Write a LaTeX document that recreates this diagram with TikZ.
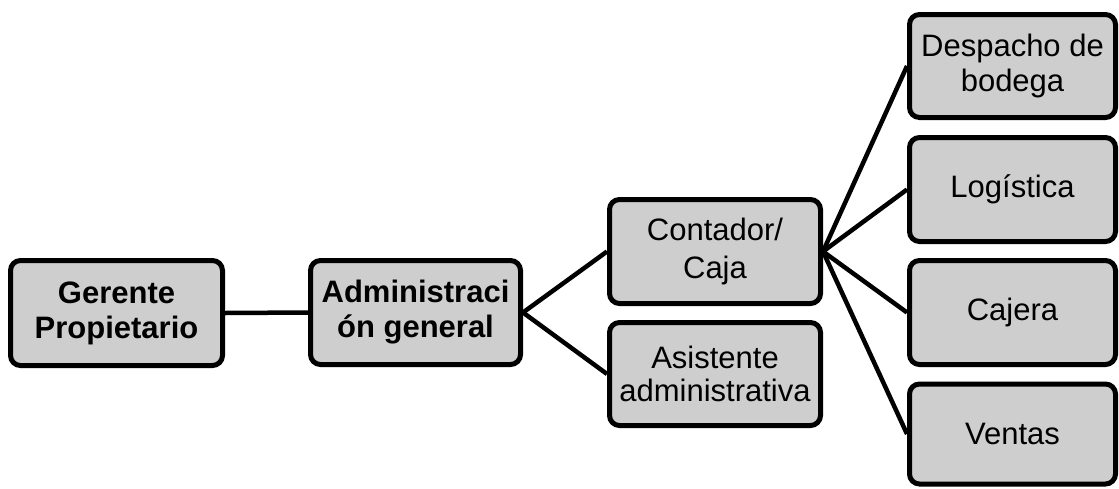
\documentclass[tikz,border=0pt]{standalone}
\usepackage{fontspec}
\setmainfont{Liberation Sans}
\definecolor{boxgray}{RGB}{206,206,206}
\begin{document}
\begin{tikzpicture}[x=1pt,y=-1pt,
  box/.style={draw=black, line width=5pt, fill=boxgray, rounded corners=10pt,
    align=center, inner sep=0pt, font=\fontsize{31}{35}\selectfont,
    minimum height=104pt},
  link/.style={draw=black, line width=4.5pt}]
\useasboundingbox (0,0) rectangle (1119,488);
\node[box, minimum width=212pt, minimum height=105pt] (g) at (116.5,313) {\bfseries Gerente\\\bfseries Propietario};
\node[box, minimum width=210pt] (a) at (415.5,312.5) {\bfseries Administraci\\\bfseries ón general};
\node[box, minimum width=211pt, font=\fontsize{31}{38}\selectfont] (c) at (715,251.5) {Contador/\\Caja};
\node[box, minimum width=211pt, minimum height=103pt, font=\fontsize{31}{33}\selectfont] (s) at (715,374) {Asistente\\administrativa};
\node[box, minimum width=206pt, minimum height=103pt] (d) at (1012.5,66) {Despacho de\\bodega};
\node[box, minimum width=206pt] (l) at (1012.5,189.5) {Logística};
\node[box, minimum width=206pt] (j) at (1012.5,312.5) {Cajera};
\node[box, minimum width=206pt, minimum height=100pt] (v) at (1012.5,434) {Ventas};
\draw[link] (g.east) -- (a.west);
\draw[link] (a.east) -- (c.west);
\draw[link] (a.east) -- (s.west);
\draw[link] (c.east) -- (d.west);
\draw[link] (c.east) -- (l.west);
\draw[link] (c.east) -- (j.west);
\draw[link] (c.east) -- (v.west);
\end{tikzpicture}
\end{document}
